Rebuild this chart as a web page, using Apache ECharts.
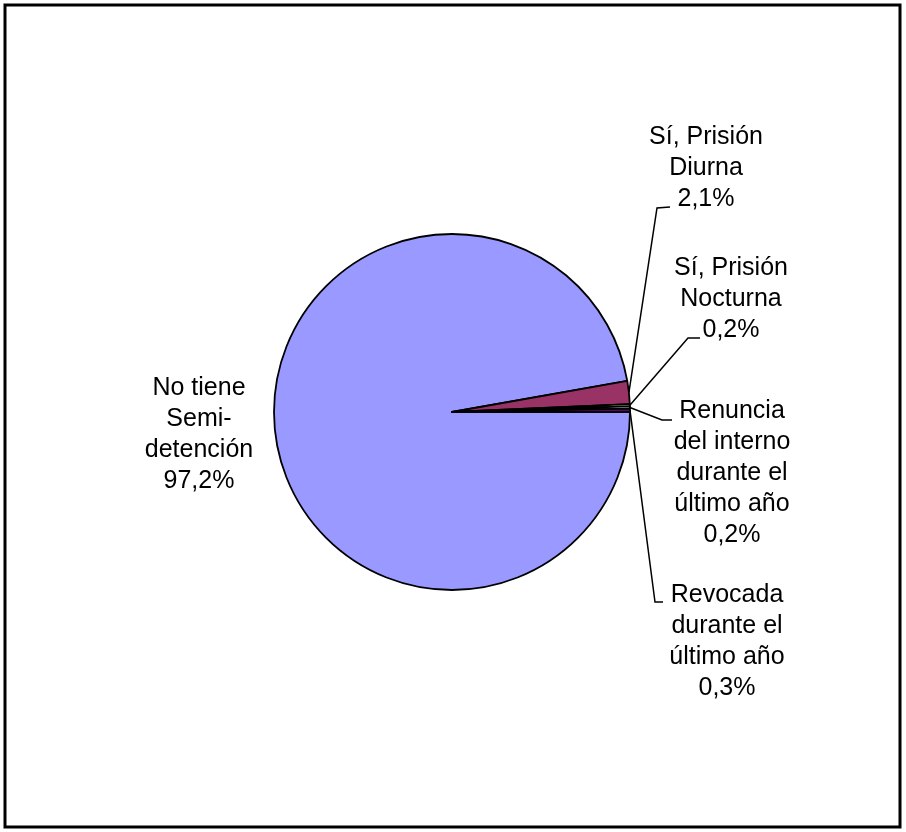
<!DOCTYPE html>
<html>
<head>
<meta charset="utf-8">
<script src="https://cdn.jsdelivr.net/npm/echarts@6/dist/echarts.min.js"></script>
<style>
html,body{margin:0;padding:0;background:#fff;}
#chart{width:906px;height:832px;}
</style>
</head>
<body>
<div id="chart"></div>
<script>
const categories = ["No tiene\nSemi-\ndetención", "Sí, Prisión\nDiurna", "Sí, Prisión\nNocturna", "Renuncia\ndel interno\ndurante el\núltimo año", "Revocada\ndurante el\núltimo año"];
const values = [97.2, 2.1, 0.2, 0.2, 0.3];
const colors = ["#9999FF", "#993366", "#FFFFCC", "#CCFFFF", "#660066"];
const labelPos = [[199, 435], [706, 168], [731, 299], [732, 473], [727, 642]];
const leaderBends = [null, [[657, 208], [670, 207]], [[688, 338], [700, 338]], [[662, 420], [672, 420]], [[655, 602], [663, 602]]];

const chart = echarts.init(document.getElementById('chart'), null, {renderer: 'canvas'});
const data = categories.map((c, i) => ({
  name: c,
  value: values[i],
  itemStyle: {color: colors[i]},
  labelLine: {show: i !== 0}
}));
chart.setOption({
  animation: false,
  graphic: [{
    type: 'rect', shape: {x: 5, y: 5, width: 895, height: 822},
    style: {fill: 'none', stroke: '#000', lineWidth: 3}, silent: true
  }],
  series: [{
    type: 'pie',
    center: [452, 412],
    radius: 178,
    startAngle: 0,
    clockwise: true,
    data: data,
    itemStyle: {borderColor: '#000', borderWidth: 1.8},
    label: {
      show: true,
      formatter: p => p.name + "\n" + p.value.toFixed(1).replace('.', ',') + "%",
      fontFamily: "'Liberation Sans', Arial, sans-serif",
      fontSize: 25,
      lineHeight: 31,
      color: '#000',
      align: 'center'
    },
    labelLine: {show: true, lineStyle: {color: '#000', width: 1.5}, length: 10, length2: 10},
    labelLayout: function (params) {
      const i = params.dataIndex;
      const p = labelPos[i];
      const out = {x: p[0], y: p[1], align: 'center', verticalAlign: 'middle'};
      if (leaderBends[i] && params.labelLinePoints) {
        const start = params.labelLinePoints[0];
        out.labelLinePoints = [start, leaderBends[i][0], leaderBends[i][1]];
      }
      return out;
    }
  }]
});
</script>
</body>
</html>
